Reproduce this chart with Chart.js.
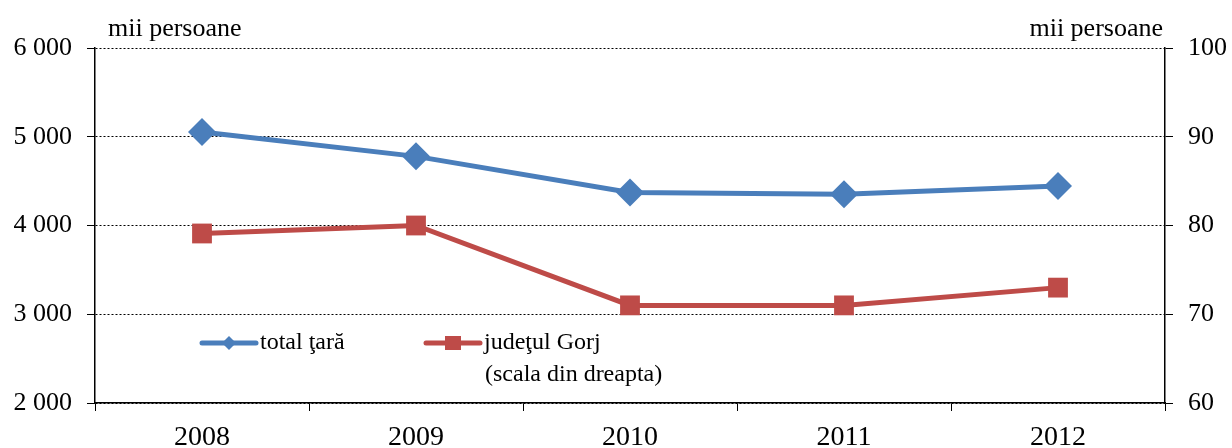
<!DOCTYPE html>
<html>
<head>
<meta charset="utf-8">
<script src="https://cdn.jsdelivr.net/npm/chart.js@4"></script>
<style>
  html, body { margin: 0; padding: 0; background: #fff; }
  #wrap { width: 1232px; height: 448px; }
</style>
</head>
<body>
<div id="wrap"><canvas id="myChart" width="1232" height="448"></canvas></div>
<script>
const years = ['2008', '2009', '2010', '2011', '2012'];
const totalTara = [5053, 4779, 4371, 4352, 4445];
const judetulGorj = [79.1, 80, 71, 71, 73];
const leftTicks = [2000, 3000, 4000, 5000, 6000];
const rightTicks = [60, 70, 80, 90, 100];
const unitLabel = 'mii persoane';

const FONT = "'Liberation Serif', 'DejaVu Serif', serif";
const BLUE = '#4a7ebb';
const RED = '#be4b48';

// thousands with a space, as in the reference
const fmt = v => {
  const s = String(v);
  return s.length > 3 ? s.slice(0, s.length - 3) + ' ' + s.slice(-3) : s;
};

// draws the units above both axes and the legend inside the plot
const extras = {
  id: 'extras',
  afterDraw(chart) {
    const ctx = chart.ctx;
    const a = chart.chartArea;
    ctx.save();
    ctx.fillStyle = '#000';
    ctx.font = '26px ' + FONT;
    ctx.textBaseline = 'alphabetic';
    ctx.textAlign = 'left';
    ctx.fillText(unitLabel, a.left + 13, 36);
    ctx.textAlign = 'right';
    ctx.fillText(unitLabel, a.right - 2, 36);

    const items = [
      { ds: 0, x: 202, y: 343, lines: ['total ţară'] },
      { ds: 1, x: 426, y: 343, lines: ['judeţul Gorj', '(scala din dreapta)'] }
    ];
    items.forEach(it => {
      const ds = chart.data.datasets[it.ds];
      ctx.strokeStyle = ds.borderColor;
      ctx.lineWidth = 5;
      ctx.lineCap = 'round';
      ctx.beginPath();
      ctx.moveTo(it.x, it.y);
      ctx.lineTo(it.x + 54, it.y);
      ctx.stroke();
      ctx.fillStyle = ds.backgroundColor;
      const cx = it.x + 27;
      if (ds.pointStyle === 'rectRot') {
        ctx.beginPath();
        ctx.moveTo(cx, it.y - 7);
        ctx.lineTo(cx + 7, it.y);
        ctx.lineTo(cx, it.y + 7);
        ctx.lineTo(cx - 7, it.y);
        ctx.closePath();
        ctx.fill();
      } else {
        ctx.fillRect(cx - 8, it.y - 7, 16, 14);
      }
      ctx.fillStyle = '#000';
      ctx.font = '24px ' + FONT;
      ctx.textAlign = 'left';
      ctx.textBaseline = 'middle';
      it.lines.forEach((t, i) => {
        ctx.fillText(t, it.x + 58 + (i ? 1 : 0), it.y + i * 32);
      });
    });
    ctx.restore();
  }
};

const ctx = document.getElementById('myChart').getContext('2d');
new Chart(ctx, {
  type: 'line',
  data: {
    labels: years,
    datasets: [
      {
        label: 'total ţară',
        data: totalTara,
        yAxisID: 'y',
        borderColor: BLUE,
        backgroundColor: BLUE,
        borderWidth: 5,
        pointStyle: 'rectRot',
        pointRadius: 14,
        pointHoverRadius: 14,
        pointBorderWidth: 0,
        tension: 0
      },
      {
        label: 'judeţul Gorj (scala din dreapta)',
        data: judetulGorj,
        yAxisID: 'y1',
        borderColor: RED,
        backgroundColor: RED,
        borderWidth: 5,
        pointStyle: 'rect',
        pointRadius: 14,
        pointHoverRadius: 14,
        pointBorderWidth: 0,
        tension: 0
      }
    ]
  },
  options: {
    responsive: false,
    animation: false,
    devicePixelRatio: 1,
    layout: { padding: { top: 48, left: 0, right: 0, bottom: 0 } },
    plugins: {
      legend: { display: false },
      tooltip: { enabled: false }
    },
    scales: {
      x: {
        offset: true,
        grid: {
          offset: true,
          drawOnChartArea: false,
          color: '#000',
          tickLength: 8
        },
        border: { color: '#000', width: 1.5 },
        ticks: {
          color: '#000',
          font: { family: FONT, size: 28 },
          padding: 10
        },
        afterFit(s) { s.height = 45; }
      },
      y: {
        position: 'left',
        min: leftTicks[0],
        max: leftTicks[leftTicks.length - 1],
        afterBuildTicks(s) { s.ticks = leftTicks.map(v => ({ value: v })); },
        grid: {
          color: '#000',
          lineWidth: 1,
          tickLength: 8,
          tickBorderDash: [],
          tickColor: '#000'
        },
        border: { color: '#000', width: 1.5, dash: [2, 2] },
        ticks: {
          color: '#000',
          font: { family: FONT, size: 26 },
          padding: 15,
          callback: v => fmt(v)
        },
        afterFit(s) { s.width = 95; }
      },
      y1: {
        position: 'right',
        min: rightTicks[0],
        max: rightTicks[rightTicks.length - 1],
        afterBuildTicks(s) { s.ticks = rightTicks.map(v => ({ value: v })); },
        grid: {
          drawOnChartArea: false,
          color: '#000',
          tickLength: 8
        },
        border: { color: '#000', width: 1.5 },
        ticks: {
          color: '#000',
          font: { family: FONT, size: 26 },
          padding: 15
        },
        afterFit(s) { s.width = 67; }
      }
    }
  },
  plugins: [extras]
});
</script>
</body>
</html>
